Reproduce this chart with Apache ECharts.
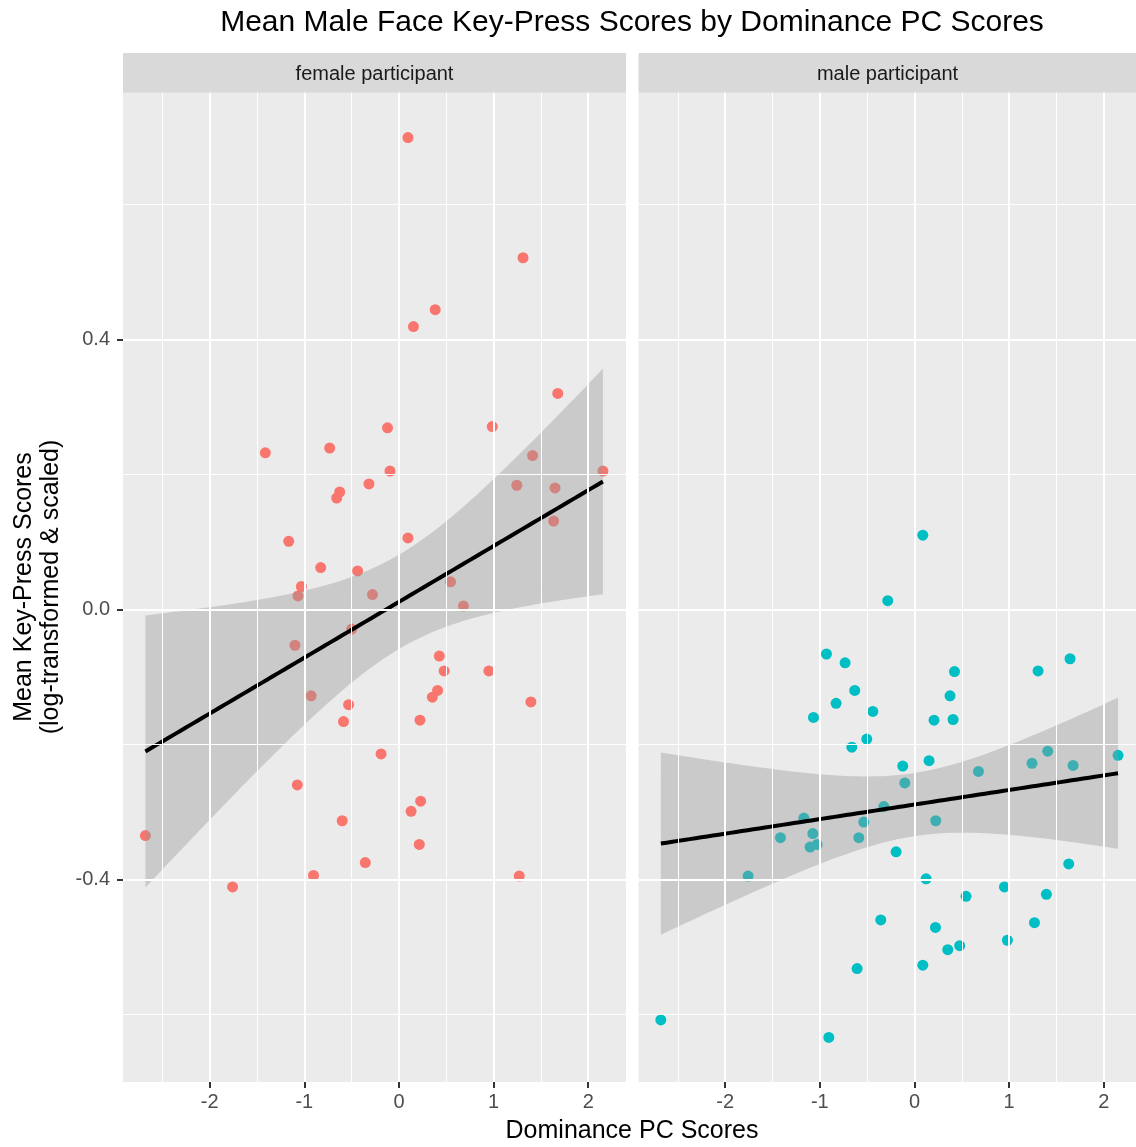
<!DOCTYPE html>
<html><head><meta charset="utf-8">
<script src="https://cdn.jsdelivr.net/npm/echarts@6/dist/echarts.min.js"></script>
<style>html,body{margin:0;padding:0;background:#fff}#c{width:1136px;height:1147px}</style>
</head><body><div id="c"></div><script>
const chartTitle = 'Mean Male Face Key-Press Scores by Dominance PC Scores';
const panelNames = ['female participant', 'male participant'];
const xTitle = 'Dominance PC Scores';
const yTitle = 'Mean Key-Press Scores\n(log-transformed & scaled)';

const femaleX = [0.095,1.311,0.383,0.153,1.678,-1.412,-0.732,-0.121,0.986,1.412,
  -0.095,2.155,-0.317,1.245,1.649,-0.626,-0.658,1.634,-1.165,0.095,
  -0.827,-0.437,-1.031,-1.067,-0.280,0.545,0.681,-0.499,-1.099,0.426,
  0.477,0.950,0.408,0.353,-0.928,1.394,-0.532,-0.586,0.222,-0.189,
  -1.074,0.229,0.128,-0.600,-2.679,0.215,-0.356,-0.903,1.271,-1.758];
const femaleY = [0.699,0.521,0.444,0.419,0.320,0.232,0.239,0.269,0.271,0.228,
  0.205,0.205,0.186,0.184,0.180,0.174,0.165,0.131,0.101,0.106,
  0.062,0.057,0.034,0.020,0.022,0.041,0.005,-0.029,-0.053,-0.069,
  -0.091,-0.091,-0.120,-0.130,-0.128,-0.137,-0.141,-0.166,-0.164,-0.214,
  -0.260,-0.284,-0.299,-0.313,-0.335,-0.348,-0.375,-0.394,-0.395,-0.411];
const maleX = [0.088,-0.282,-0.930,-0.733,1.644,1.306,0.423,-0.631,-0.828,0.376,
  -1.067,-0.440,0.207,0.408,-0.504,-0.662,1.408,0.154,-0.124,1.242,
  1.676,2.151,0.676,-0.102,-0.324,-1.169,-0.536,0.225,-1.416,-1.074,
  -0.588,-1.029,-1.103,-0.194,1.630,-1.758,0.123,0.951,0.545,1.394,
  -0.356,1.268,0.222,0.982,0.478,0.352,0.088,-0.606,-2.680,-0.905];
const maleY = [0.110,0.013,-0.066,-0.079,-0.073,-0.091,-0.092,-0.120,-0.139,-0.128,
  -0.160,-0.151,-0.164,-0.163,-0.192,-0.204,-0.210,-0.224,-0.232,-0.228,
  -0.231,-0.216,-0.240,-0.257,-0.292,-0.309,-0.315,-0.313,-0.338,-0.332,
  -0.338,-0.348,-0.352,-0.359,-0.377,-0.395,-0.399,-0.411,-0.425,-0.422,
  -0.460,-0.464,-0.471,-0.490,-0.498,-0.504,-0.527,-0.532,-0.608,-0.634];

const xTicks = [-2, -1, 0, 1, 2];
const xMinor = [-2.5, -1.5, -0.5, 0.5, 1.5];
const yTicks = [-0.4, 0, 0.4];
const yMinor = [-0.6, -0.2, 0.2, 0.6];
const xRange = [-2.916, 2.399];
const yRange = [-0.700, 0.7655];

const colors = ['#F8766D', '#00BFC4'];
const FONT = '"Liberation Sans", Arial, Helvetica, sans-serif';

function tq975(df) {
  const z = 1.959964;
  return z + (z*z*z + z)/(4*df) + (5*Math.pow(z,5) + 16*z*z*z + 3*z)/(96*df*df)
    + (3*Math.pow(z,7) + 19*Math.pow(z,5) + 17*z*z*z - 15*z)/(384*df*df*df);
}
function lmFit(xs, ys, n) {
  const N = xs.length;
  const mx = xs.reduce((a,b)=>a+b,0)/N, my = ys.reduce((a,b)=>a+b,0)/N;
  let sxx = 0, sxy = 0;
  for (let i=0;i<N;i++){ sxx += (xs[i]-mx)**2; sxy += (xs[i]-mx)*(ys[i]-my); }
  const b = sxy/sxx, a = my - b*mx;
  let sse = 0;
  for (let i=0;i<N;i++){ sse += (ys[i]-a-b*xs[i])**2; }
  const s2 = sse/(N-2), t = tq975(N-2);
  const x0 = Math.min(...xs), x1 = Math.max(...xs);
  const out = [];
  for (let k=0;k<n;k++){
    const x = x0 + (x1-x0)*k/(n-1);
    const yh = a + b*x;
    const se = Math.sqrt(s2*(1/N + (x-mx)**2/sxx));
    out.push([x, yh, yh - t*se, yh + t*se]);
  }
  return out;
}

const panelData = [[femaleX, femaleY], [maleX, maleY]];
const CANVAS_W = 1136;
const gridLefts = [123, 638.5];
const fullW = 503, gridTop = 92.7, gridH = 989.3;
// the right panel is cut by the image edge: keep the same px-per-unit scale
const gridWidths = gridLefts.map(l => Math.min(fullW, CANVAS_W - l));
const xMaxes = gridWidths.map(w => xRange[0] + (xRange[1] - xRange[0]) * w / fullW);

const grids = [], xAxes = [], yAxes = [], series = [];
panelData.forEach((pd, i) => {
  grids.push({left: gridLefts[i], top: gridTop, width: gridWidths[i], height: gridH,
    show: true, backgroundColor: '#EBEBEB', borderWidth: 0});
  xAxes.push({type: 'value', gridIndex: i, min: xRange[0], max: xMaxes[i], position: 'bottom',
    axisLine: {show: true, onZero: false, lineStyle: {color: 'rgba(0,0,0,0)', width: 0}},
    splitLine: {show: false},
    axisTick: {show: true, inside: false, length: 6, lineStyle: {color: '#333333', width: 2}, customValues: xTicks},
    axisLabel: {color: '#4D4D4D', fontSize: 20, fontFamily: FONT, margin: 10, customValues: xTicks,
      formatter: v => String(v)}});
  yAxes.push({type: 'value', gridIndex: i, min: yRange[0], max: yRange[1], position: 'left',
    axisLine: {show: true, onZero: false, lineStyle: {color: 'rgba(0,0,0,0)', width: 0}},
    splitLine: {show: false},
    axisTick: {show: i === 0, inside: false, length: 6, lineStyle: {color: '#333333', width: 2}, customValues: yTicks},
    axisLabel: {show: i === 0, color: '#4D4D4D', fontSize: 20, fontFamily: FONT, margin: 13,
      customValues: yTicks, formatter: v => Number(v).toFixed(1)}});
  const gl = (v, w, key) => ({[key]: v, lineStyle: {color: '#FFFFFF', width: w, type: 'solid'}});
  series.push({type: 'scatter', xAxisIndex: i, yAxisIndex: i, data: [], z: 1, silent: true,
    markLine: {silent: true, symbol: ['none','none'], label: {show: false}, animation: false,
      emphasis: {disabled: true},
      data: [
        ...xMinor.map(v => gl(v, 1, 'xAxis')), ...yMinor.map(v => gl(v, 1, 'yAxis')),
        ...xTicks.map(v => gl(v, 2, 'xAxis')), ...yTicks.map(v => gl(v, 2, 'yAxis'))
      ]}});
  series.push({type: 'scatter', xAxisIndex: i, yAxisIndex: i, z: 2, symbolSize: 11,
    itemStyle: {color: colors[i], opacity: 1},
    data: pd[0].map((x, k) => [x, pd[1][k]])});
  const f = lmFit(pd[0], pd[1], 80);
  series.push({type: 'custom', xAxisIndex: i, yAxisIndex: i, z: 3, silent: true,
    data: f.map(r => [r[0], r[2], r[3]]),
    renderItem: (params, api) => {
      if (params.dataIndex !== 0) return null;
      const pts = [];
      f.forEach(r => pts.push(api.coord([r[0], r[3]])));
      for (let k = f.length - 1; k >= 0; k--) pts.push(api.coord([f[k][0], f[k][2]]));
      return {type: 'polygon', shape: {points: pts}, style: {fill: 'rgba(153,153,153,0.4)'}};
    }});
  series.push({type: 'line', xAxisIndex: i, yAxisIndex: i, z: 4, showSymbol: false, silent: true,
    lineStyle: {color: '#000000', width: 4},
    data: f.map(r => [r[0], r[1]])});
});

const graphics = [
  {type: 'text', x: 632, y: 23, style: {text: chartTitle, fill: '#000', font: '30px ' + FONT,
    textAlign: 'center', textVerticalAlign: 'middle'}},
  {type: 'text', x: 632, y: 1131, style: {text: xTitle, fill: '#000', font: '25px ' + FONT,
    textAlign: 'center', textVerticalAlign: 'middle'}},
  {type: 'text', x: 38, y: 587, rotation: Math.PI/2, style: {text: yTitle, fill: '#000',
    font: '25px ' + FONT, textAlign: 'center', textVerticalAlign: 'middle', lineHeight: 27}}
];
panelNames.forEach((n, i) => {
  graphics.push({type: 'rect', shape: {x: gridLefts[i], y: 53, width: fullW, height: 39.7},
    style: {fill: '#D9D9D9'}});
  graphics.push({type: 'text', x: gridLefts[i] + fullW/2 - (i === 1 ? 2.5 : 0), y: 74,
    style: {text: n, fill: '#1A1A1A', font: '20px ' + FONT, textAlign: 'center', textVerticalAlign: 'middle'}});
});

const chart = echarts.init(document.getElementById('c'), null, {renderer: 'canvas'});
chart.setOption({animation: false, backgroundColor: '#FFFFFF',
  grid: grids, xAxis: xAxes, yAxis: yAxes, series: series, graphic: graphics});
</script></body></html>
